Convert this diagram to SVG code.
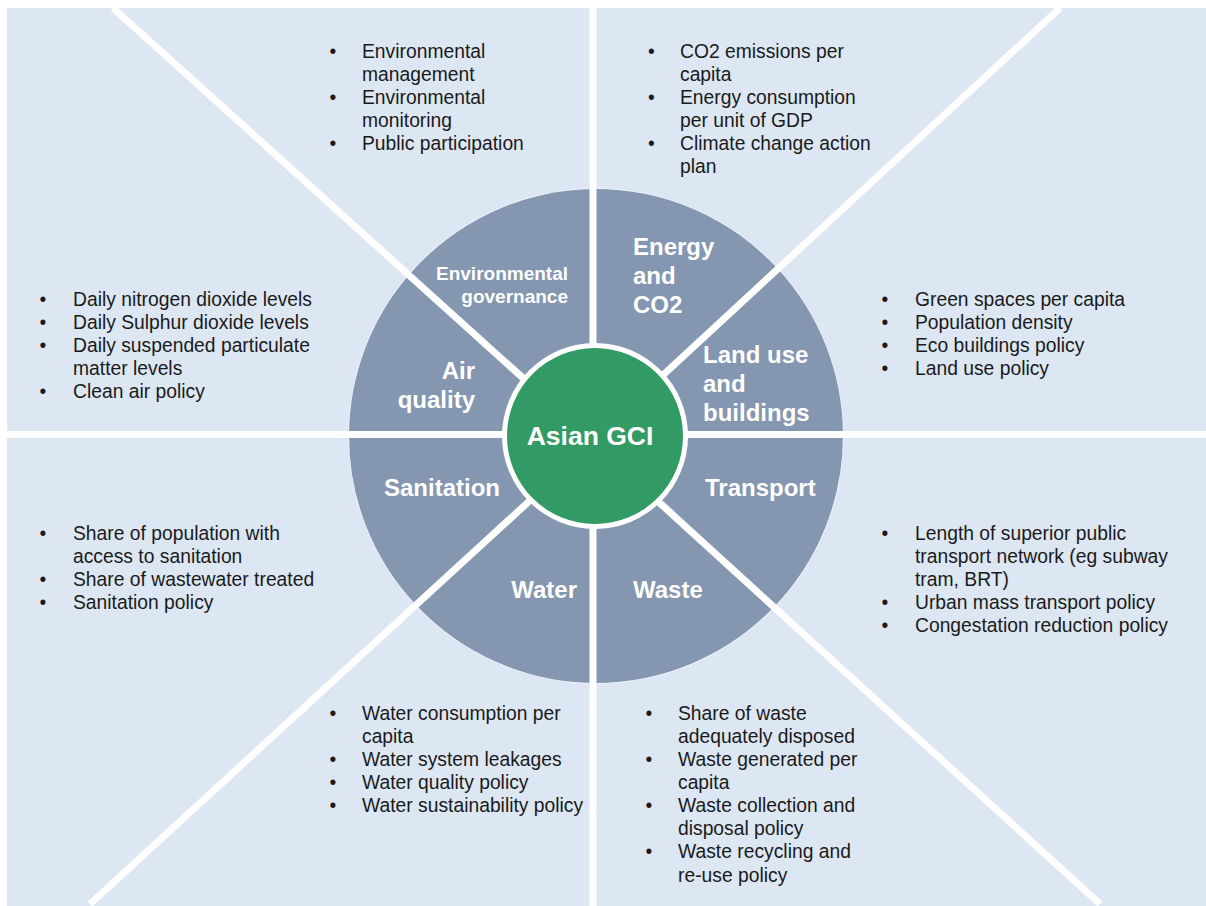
<svg xmlns="http://www.w3.org/2000/svg" width="1206" height="906" viewBox="0 0 1206 906">
  <style>
    .bg { fill: #DCE7F3; }
    .slice { fill: #8496B0; }
    .sep { stroke: #FFFFFF; stroke-width: 7; stroke-linecap: butt; fill: none; }
    .lbl { font-family: "Liberation Sans", Arial, sans-serif; font-weight: bold; font-size: 24px; fill: #FFFFFF; }
    .lbl-s { font-family: "Liberation Sans", Arial, sans-serif; font-weight: bold; font-size: 19px; fill: #FFFFFF; }
    .core { font-family: "Liberation Sans", Arial, sans-serif; font-weight: bold; font-size: 26.5px; fill: #FFFFFF; }
    .item { font-family: "Liberation Sans", Arial, sans-serif; font-size: 19.3px; fill: #1A1A1A; }
  </style>

  <rect class="bg" x="7" y="8" width="1199" height="898"/>

  <g id="wheel">
    <circle cx="596" cy="436" r="247.5" fill="#FFFFFF"/>
    <g id="slice-governance"><path class="slice" d="M596,436 L408.8,275 A247,247 0 0 1 593,189 Z"/></g>
    <g id="slice-energy"><path class="slice" d="M596,436 L593,189 A247,247 0 0 1 777.8,268.8 Z"/></g>
    <g id="slice-landuse"><path class="slice" d="M596,436 L777.8,268.8 A247,247 0 0 1 843,434.5 Z"/></g>
    <g id="slice-transport"><path class="slice" d="M596,436 L843,434.5 A247,247 0 0 1 774,607 Z"/></g>
    <g id="slice-waste"><path class="slice" d="M596,436 L774,607 A247,247 0 0 1 593,683 Z"/></g>
    <g id="slice-water"><path class="slice" d="M596,436 L593,683 A247,247 0 0 1 416,605 Z"/></g>
    <g id="slice-sanitation"><path class="slice" d="M596,436 L416,605 A247,247 0 0 1 349,434.5 Z"/></g>
    <g id="slice-air"><path class="slice" d="M596,436 L349,434.5 A247,247 0 0 1 408.8,275 Z"/></g>
  </g>

  <g id="connectors">
    <line class="sep" x1="7" y1="434.5" x2="1206" y2="434.5"/>
    <line class="sep" x1="593" y1="8" x2="593" y2="906"/>
    <line class="sep" x1="113" y1="8" x2="596" y2="444"/>
    <line class="sep" x1="1060" y1="8" x2="596" y2="437"/>
    <line class="sep" x1="90" y1="904" x2="596" y2="440"/>
    <line class="sep" x1="1100" y1="904" x2="596" y2="445"/>
  </g>

  <g id="center">
    <circle cx="595" cy="436" r="93" fill="#FFFFFF"/>
    <circle cx="595" cy="436" r="88" fill="#319A65"/>
    <text class="core" x="590" y="445" text-anchor="middle">Asian GCI</text>
  </g>

  <g id="label-governance">
    <text class="lbl-s" x="568" y="280" text-anchor="end">Environmental</text>
    <text class="lbl-s" x="568" y="303" text-anchor="end">governance</text>
  </g>
  <g id="label-energy">
    <text class="lbl" x="633" y="255">Energy</text>
    <text class="lbl" x="633" y="284">and</text>
    <text class="lbl" x="633" y="313">CO2</text>
  </g>
  <g id="label-landuse">
    <text class="lbl" x="703" y="363">Land use</text>
    <text class="lbl" x="703" y="392">and</text>
    <text class="lbl" x="703" y="421">buildings</text>
  </g>
  <g id="label-air">
    <text class="lbl" x="475" y="379" text-anchor="end">Air</text>
    <text class="lbl" x="475" y="408" text-anchor="end">quality</text>
  </g>
  <g id="label-sanitation"><text class="lbl" x="384" y="496">Sanitation</text></g>
  <g id="label-transport"><text class="lbl" x="705" y="496">Transport</text></g>
  <g id="label-water"><text class="lbl" x="577" y="598" text-anchor="end">Water</text></g>
  <g id="label-waste"><text class="lbl" x="633" y="598">Waste</text></g>

  <g id="list-governance">
    <text class="item" x="329.6" y="58">•</text><text class="item" x="362" y="58">Environmental</text>
    <text class="item" x="362" y="81">management</text>
    <text class="item" x="329.6" y="104">•</text><text class="item" x="362" y="104">Environmental</text>
    <text class="item" x="362" y="127">monitoring</text>
    <text class="item" x="329.6" y="150">•</text><text class="item" x="362" y="150">Public participation</text>
  </g>

  <g id="list-energy">
    <text class="item" x="648" y="58">•</text><text class="item" x="680" y="58">CO2 emissions per</text>
    <text class="item" x="680" y="81">capita</text>
    <text class="item" x="648" y="104">•</text><text class="item" x="680" y="104">Energy consumption</text>
    <text class="item" x="680" y="127">per unit of GDP</text>
    <text class="item" x="648" y="150">•</text><text class="item" x="680" y="150">Climate change action</text>
    <text class="item" x="680" y="173">plan</text>
  </g>

  <g id="list-air">
    <text class="item" x="39.6" y="306">•</text><text class="item" x="73" y="306">Daily nitrogen dioxide levels</text>
    <text class="item" x="39.6" y="329">•</text><text class="item" x="73" y="329">Daily Sulphur dioxide levels</text>
    <text class="item" x="39.6" y="352">•</text><text class="item" x="73" y="352">Daily suspended particulate</text>
    <text class="item" x="73" y="375">matter levels</text>
    <text class="item" x="39.6" y="398">•</text><text class="item" x="73" y="398">Clean air policy</text>
  </g>

  <g id="list-landuse">
    <text class="item" x="881.6" y="306">•</text><text class="item" x="915" y="306">Green spaces per capita</text>
    <text class="item" x="881.6" y="329">•</text><text class="item" x="915" y="329">Population density</text>
    <text class="item" x="881.6" y="352">•</text><text class="item" x="915" y="352">Eco buildings policy</text>
    <text class="item" x="881.6" y="375">•</text><text class="item" x="915" y="375">Land use policy</text>
  </g>

  <g id="list-sanitation">
    <text class="item" x="39.6" y="540">•</text><text class="item" x="73" y="540">Share of population with</text>
    <text class="item" x="73" y="563">access to sanitation</text>
    <text class="item" x="39.6" y="586">•</text><text class="item" x="73" y="586">Share of wastewater treated</text>
    <text class="item" x="39.6" y="609">•</text><text class="item" x="73" y="609">Sanitation policy</text>
  </g>

  <g id="list-transport">
    <text class="item" x="881.6" y="540">•</text><text class="item" x="915" y="540">Length of superior public</text>
    <text class="item" x="915" y="563">transport network (eg subway</text>
    <text class="item" x="915" y="586">tram, BRT)</text>
    <text class="item" x="881.6" y="609">•</text><text class="item" x="915" y="609">Urban mass transport policy</text>
    <text class="item" x="881.6" y="632">•</text><text class="item" x="915" y="632">Congestation reduction policy</text>
  </g>

  <g id="list-water">
    <text class="item" x="329.6" y="720">•</text><text class="item" x="362" y="720">Water consumption per</text>
    <text class="item" x="362" y="743">capita</text>
    <text class="item" x="329.6" y="766">•</text><text class="item" x="362" y="766">Water system leakages</text>
    <text class="item" x="329.6" y="789">•</text><text class="item" x="362" y="789">Water quality policy</text>
    <text class="item" x="329.6" y="812">•</text><text class="item" x="362" y="812">Water sustainability policy</text>
  </g>

  <g id="list-waste">
    <text class="item" x="645.6" y="720">•</text><text class="item" x="678" y="720">Share of waste</text>
    <text class="item" x="678" y="743">adequately disposed</text>
    <text class="item" x="645.6" y="766">•</text><text class="item" x="678" y="766">Waste generated per</text>
    <text class="item" x="678" y="789">capita</text>
    <text class="item" x="645.6" y="812">•</text><text class="item" x="678" y="812">Waste collection and</text>
    <text class="item" x="678" y="835">disposal policy</text>
    <text class="item" x="645.6" y="858">•</text><text class="item" x="678" y="858">Waste recycling and</text>
    <text class="item" x="678" y="882">re-use policy</text>
  </g>
</svg>
